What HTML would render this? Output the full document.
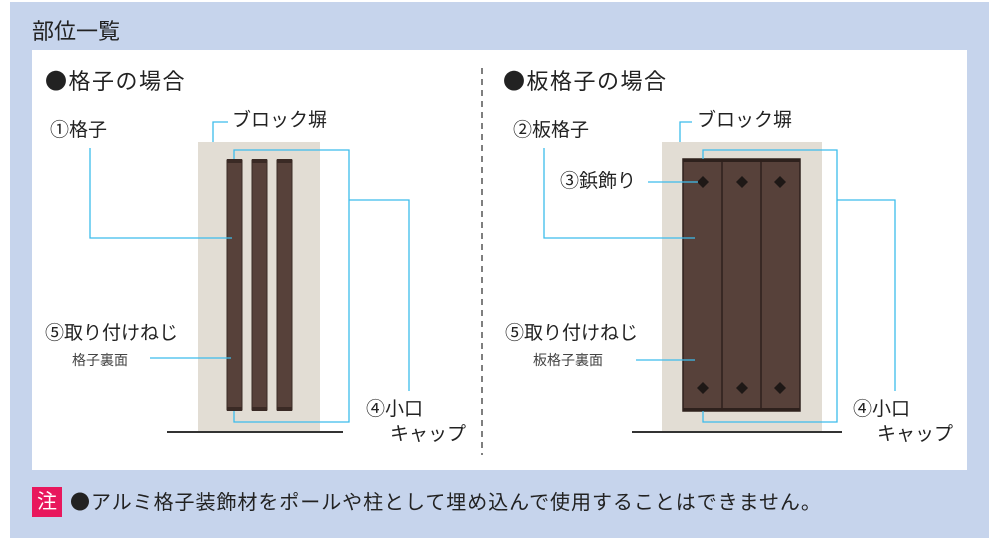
<!DOCTYPE html>
<html><head><meta charset="utf-8"><style>
body{margin:0;width:1000px;height:552px;background:#fff;font-family:"Liberation Sans","Noto Sans CJK JP",sans-serif;color:#222;overflow:hidden}
.t{position:absolute;white-space:nowrap;line-height:1}
.b{font-family:"Noto Sans CJK JP",sans-serif}
.l{font-size:19px}
</style></head><body>
<div style="position:absolute;left:10px;top:2px;width:979px;height:536px;background:#c6d4ec"></div>
<div style="position:absolute;left:32px;top:50px;width:935px;height:420px;background:#fff"></div>
<svg width="1000" height="552" style="position:absolute;left:0;top:0">
<line x1="482" y1="68" x2="482" y2="455" stroke="#555" stroke-width="1.5" stroke-dasharray="6,5"/>
<rect x="198" y="142" width="122" height="290" fill="#e2ddd4"/>
<line x1="167" y1="432" x2="343" y2="432" stroke="#333" stroke-width="2"/>
<g fill="#57413a" stroke="#3a2a25" stroke-width="1">
<rect x="227" y="160" width="15" height="250"/><rect x="252" y="160" width="15" height="250"/><rect x="277" y="160" width="15" height="250"/></g>
<g fill="#3a2a25"><rect x="227" y="159" width="15" height="4"/><rect x="252" y="159" width="15" height="4"/><rect x="277" y="159" width="15" height="4"/>
<rect x="227" y="407" width="15" height="4"/><rect x="252" y="407" width="15" height="4"/><rect x="277" y="407" width="15" height="4"/></g>
<g fill="none" stroke="#3cbcec" stroke-width="1.3">
<polyline points="234,159 234,150 349,150 349,422 234,422 234,411"/>
<polyline points="349,200 409,200 409,391"/>
<polyline points="90,148 90,238 232,238"/>
<polyline points="150,358 231,358"/>
<polyline points="213,142 213,122 228,122"/>
</g>
<rect x="662" y="142" width="160" height="290" fill="#e2ddd4"/>
<line x1="632" y1="432" x2="842" y2="432" stroke="#333" stroke-width="2"/>
<rect x="683" y="159" width="117" height="252" fill="#57413a" stroke="#2e211d" stroke-width="1.5"/>
<rect x="683" y="159" width="117" height="3" fill="#2e211d"/><rect x="683" y="408" width="117" height="3" fill="#2e211d"/>
<line x1="722" y1="159" x2="722" y2="411" stroke="#2e211d" stroke-width="1.5"/>
<line x1="761" y1="159" x2="761" y2="411" stroke="#2e211d" stroke-width="1.5"/>
<g fill="#1e1816">
<path d="M703 176l6 6-6 6-6-6z"/><path d="M742 176l6 6-6 6-6-6z"/><path d="M780 176l6 6-6 6-6-6z"/>
<path d="M703 382l6 6-6 6-6-6z"/><path d="M742 382l6 6-6 6-6-6z"/><path d="M780 382l6 6-6 6-6-6z"/></g>
<g fill="none" stroke="#3cbcec" stroke-width="1.3">
<polyline points="703,159 703,150 837,150 837,422 703,422 703,411"/>
<polyline points="837,200 895,200 895,391"/>
<polyline points="544,148 544,238 695,238"/>
<polyline points="636,360 695,360"/>
<polyline points="648,182 698,182"/>
<polyline points="680,142 680,122 692,122"/>
</g>
</svg>
<div class="t" style="left:32px;top:21px;font-size:22px">部位一覧</div>
<div class="t" style="left:45px;top:69px;font-size:22px;letter-spacing:1.5px"><span class="b">●</span>格子の場合</div>
<div class="t l" style="left:50px;top:121px">①格子</div>
<div class="t l" style="left:232px;top:111px">ブロック塀</div>
<div class="t l" style="left:45px;top:324px">⑤取り付けねじ</div>
<div class="t" style="left:72px;top:353px;font-size:14px;color:#444">格子裏面</div>
<div class="t l" style="left:366px;top:400px">④小口</div>
<div class="t l" style="left:390px;top:425px">キャップ</div>
<div class="t" style="left:503px;top:69px;font-size:22px;letter-spacing:1.5px"><span class="b">●</span>板格子の場合</div>
<div class="t l" style="left:513px;top:121px">②板格子</div>
<div class="t l" style="left:560px;top:172px">③鋲飾り</div>
<div class="t l" style="left:697px;top:111px">ブロック塀</div>
<div class="t l" style="left:505px;top:324px">⑤取り付けねじ</div>
<div class="t" style="left:533px;top:353px;font-size:14px;color:#444">板格子裏面</div>
<div class="t l" style="left:853px;top:400px">④小口</div>
<div class="t l" style="left:877px;top:425px">キャップ</div>
<div class="t" style="left:32px;top:487px;width:30px;height:30px;background:#e8175d;color:#fff;font-size:20px;line-height:30px;text-align:center">注</div>
<div class="t" style="left:70px;top:491px;font-size:20px;letter-spacing:0.95px"><span class="b">●</span>アルミ格子装飾材をポールや柱として埋め込んで使用することはできません。</div>
</body></html>
